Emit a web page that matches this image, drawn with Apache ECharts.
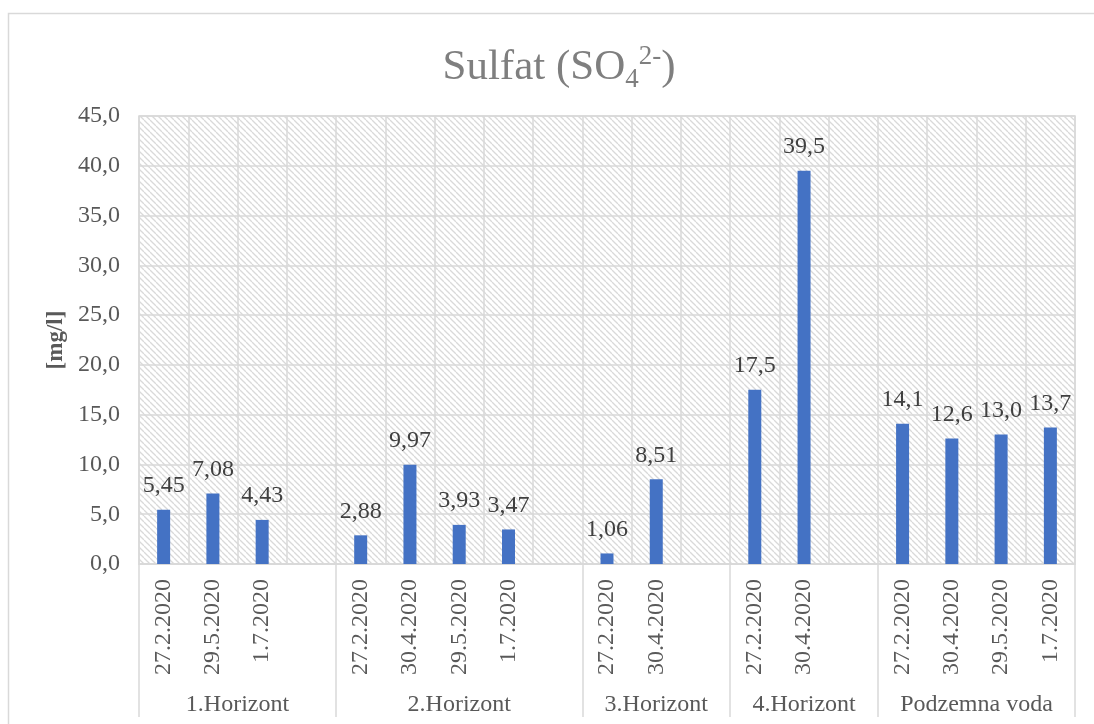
<!DOCTYPE html>
<html>
<head>
<meta charset="utf-8">
<script src="https://cdn.jsdelivr.net/npm/echarts@6/dist/echarts.min.js"></script>
<style>
  html, body { margin: 0; padding: 0; background: #fff; }
  #chart { width: 1094px; height: 724px; }
</style>
</head>
<body>
<div id="chart"></div>
<script>
// groups along the bottom, each slot of the category axis belongs to one group
const groups = ['1.Horizont', '2.Horizont', '3.Horizont', '4.Horizont', 'Podzemna voda'];
const groupOf = [0, 0, 0, 0, 1, 1, 1, 1, 1, 2, 2, 2, 3, 3, 3, 4, 4, 4, 4];
const dates = [
  '27.2.2020', '29.5.2020', '1.7.2020', '',
  '27.2.2020', '30.4.2020', '29.5.2020', '1.7.2020', '',
  '27.2.2020', '30.4.2020', '',
  '27.2.2020', '30.4.2020', '',
  '27.2.2020', '30.4.2020', '29.5.2020', '1.7.2020'
];
const values = [
  5.45, 7.08, 4.43, null,
  2.88, 9.97, 3.93, 3.47, null,
  1.06, 8.51, null,
  17.5, 39.5, null,
  14.1, 12.6, 13.0, 13.7
];
const yMin = 0, yMax = 45, yStep = 5;

const FONT = '"Liberation Serif", "Times New Roman", serif';

// group boundaries and centres in slot units
const bounds = [0];
const centers = [];
let start = 0;
for (let i = 1; i <= groupOf.length; i++) {
  if (i === groupOf.length || groupOf[i] !== groupOf[i - 1]) {
    bounds.push(i);
    centers.push((start + i) / 2);
    start = i;
  }
}

// hatched fill for the plot area
function hatch() {
  const c = document.createElement('canvas');
  c.width = 6; c.height = 6;
  const ctx = c.getContext('2d');
  ctx.strokeStyle = '#d9d9d9';
  ctx.lineWidth = 1.3;
  for (const k of [-6, 0, 6]) {
    ctx.beginPath();
    ctx.moveTo(k, 0);
    ctx.lineTo(k + 6, 6);
    ctx.stroke();
  }
  return c;
}

const chart = echarts.init(document.getElementById('chart'));
chart.setOption({
  animation: false,
  title: {
    text: 'Sulfat (SO{sub|4}{sup|2-})',
    left: 554,
    textAlign: 'center',
    top: 38,
    textStyle: {
      fontFamily: FONT, fontSize: 43, fontWeight: 'normal', color: '#7f7f7f', lineHeight: 50,
      rich: {
        sub: { fontFamily: FONT, fontSize: 27, color: '#7f7f7f', verticalAlign: 'bottom', lineHeight: 40 },
        sup: { fontFamily: FONT, fontSize: 27, color: '#7f7f7f', verticalAlign: 'top', lineHeight: 36 }
      }
    }
  },
  graphic: [{
    type: 'rect',
    shape: { x: 8.5, y: 13.5, width: 1090, height: 730 },
    style: { fill: null, stroke: '#d9d9d9', lineWidth: 1.5 },
    silent: true, z: -10
  }],
  grid: {
    left: 139, right: 19, top: 116, bottom: 160,
    show: true,
    backgroundColor: { image: hatch(), repeat: 'repeat' },
    borderColor: '#d9d9d9', borderWidth: 1.5
  },
  xAxis: [{
    type: 'category',
    data: dates,
    axisLine: { lineStyle: { color: '#d9d9d9', width: 1.5 } },
    axisTick: { show: false },
    axisLabel: {
      interval: 0, rotate: 90, margin: 15,
      fontFamily: FONT, fontSize: 24, color: '#595959'
    },
    splitLine: { show: true, interval: 0, lineStyle: { color: '#d9d9d9', width: 1.5 } }
  }, {
    type: 'value',
    min: 0, max: groupOf.length,
    position: 'bottom',
    axisLine: { show: false },
    splitLine: { show: false },
    axisTick: {
      show: true, customValues: bounds, length: 153,
      lineStyle: { color: '#d9d9d9', width: 1.5 }
    },
    axisLabel: {
      customValues: centers, margin: 129,
      fontFamily: FONT, fontSize: 24, color: '#595959',
      formatter: v => groups[centers.indexOf(v)] || ''
    }
  }],
  yAxis: {
    type: 'value',
    min: yMin, max: yMax, interval: yStep,
    name: '[mg/l]',
    nameLocation: 'middle',
    nameGap: 69,
    nameTextStyle: { fontFamily: FONT, fontSize: 23, fontWeight: 'bold', color: '#595959' },
    axisLine: { show: false },
    axisTick: { show: false },
    axisLabel: {
      margin: 19, fontFamily: FONT, fontSize: 24, color: '#595959',
      formatter: v => v.toFixed(1).replace('.', ',')
    },
    splitLine: { lineStyle: { color: '#d9d9d9', width: 1.5 } }
  },
  series: [{
    type: 'bar',
    xAxisIndex: 0,
    data: values,
    barWidth: 13,
    itemStyle: { color: '#4472C4' },
    label: {
      show: true, position: 'top', distance: 12,
      fontFamily: FONT, fontSize: 24, color: '#404040',
      formatter: p => p.value == null ? '' : p.value.toPrecision(3).replace('.', ',')
    }
  }]
});
</script>
</body>
</html>
